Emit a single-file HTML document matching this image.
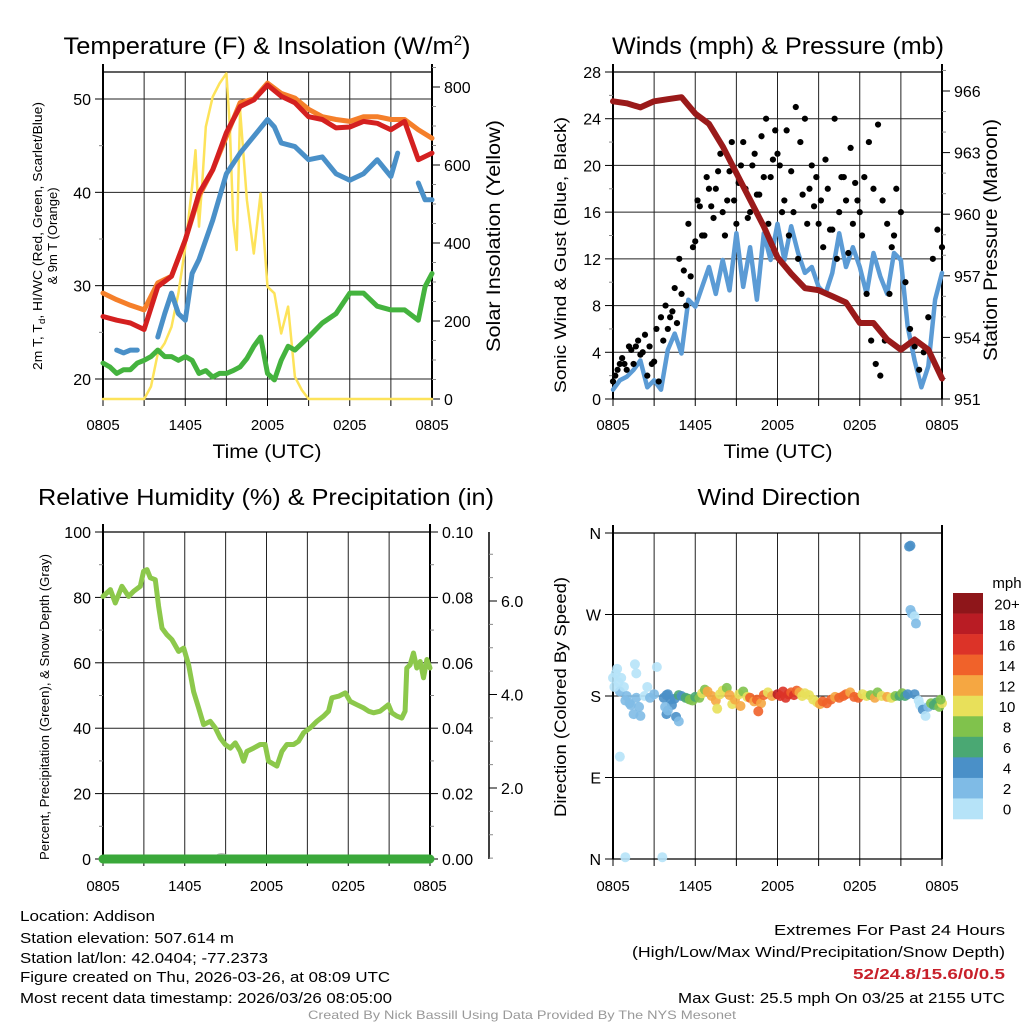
<!DOCTYPE html>
<html><head><meta charset="utf-8"><style>
html,body{margin:0;padding:0;background:#fff;}
svg{display:block;font-family:"Liberation Sans",Arial,sans-serif;}
</style></head><body>
<svg id="root" width="1024" height="1024" viewBox="0 0 1024 1024" xmlns="http://www.w3.org/2000/svg">
<rect x="0" y="0" width="1024" height="1024" fill="#fff"/>
<g id="g1"></g>
<g id="g2"></g>
<g id="g3"></g>
<g id="g4"></g>
<g id="txt">
<text x="267" y="54" font-size="24" text-anchor="middle" textLength="407" lengthAdjust="spacingAndGlyphs">Temperature (F) &amp; Insolation (W/m<tspan dy="-9" font-size="14">2</tspan><tspan dy="9">)</tspan></text>
<text x="778" y="54" font-size="24" text-anchor="middle" textLength="332" lengthAdjust="spacingAndGlyphs">Winds (mph) &amp; Pressure (mb)</text>
<text x="266" y="505" font-size="23" text-anchor="middle" textLength="456" lengthAdjust="spacingAndGlyphs">Relative Humidity (%) &amp; Precipitation (in)</text>
<text x="779" y="505" font-size="23" text-anchor="middle" textLength="163" lengthAdjust="spacingAndGlyphs">Wind Direction</text>
<text x="267" y="458" font-size="19" text-anchor="middle" textLength="109" lengthAdjust="spacingAndGlyphs">Time (UTC)</text>
<text x="778" y="458" font-size="19" text-anchor="middle" textLength="109" lengthAdjust="spacingAndGlyphs">Time (UTC)</text>
<text transform="translate(42,236) rotate(-90)" font-size="13" text-anchor="middle" textLength="268" lengthAdjust="spacingAndGlyphs">2m T, T<tspan font-size="9" dy="3">d</tspan><tspan dy="-3">, HI/WC (Red, Green, Scarlet/Blue)</tspan></text>
<text transform="translate(57,236) rotate(-90)" font-size="13" text-anchor="middle">&amp; 9m T (Orange)</text>
<text transform="translate(500,236) rotate(-90)" font-size="19" text-anchor="middle" textLength="232" lengthAdjust="spacingAndGlyphs">Solar Insolation (Yellow)</text>
<text transform="translate(566,255) rotate(-90)" font-size="17" text-anchor="middle" textLength="276" lengthAdjust="spacingAndGlyphs">Sonic Wind &amp; Gust (Blue, Black)</text>
<text transform="translate(997,240) rotate(-90)" font-size="19" text-anchor="middle" textLength="242" lengthAdjust="spacingAndGlyphs">Station Pressure (Maroon)</text>
<text transform="translate(49,707) rotate(-90)" font-size="13" text-anchor="middle" textLength="306" lengthAdjust="spacingAndGlyphs">Percent, Precipitation (Green), &amp; Snow Depth (Gray)</text>
<text transform="translate(566,697) rotate(-90)" font-size="17" text-anchor="middle" textLength="240" lengthAdjust="spacingAndGlyphs">Direction (Colored By Speed)</text>
<g font-size="15">
<text x="20" y="921" textLength="135" lengthAdjust="spacingAndGlyphs">Location: Addison</text>
<text x="20" y="943" textLength="214" lengthAdjust="spacingAndGlyphs">Station elevation: 507.614 m</text>
<text x="20" y="963" textLength="248" lengthAdjust="spacingAndGlyphs">Station lat/lon: 42.0404; -77.2373</text>
<text x="20" y="982" textLength="370" lengthAdjust="spacingAndGlyphs">Figure created on Thu, 2026-03-26, at 08:09 UTC</text>
<text x="20" y="1003" textLength="372" lengthAdjust="spacingAndGlyphs">Most recent data timestamp: 2026/03/26 08:05:00</text>
</g>
<g font-size="15" text-anchor="end">
<text x="1005" y="935" textLength="231" lengthAdjust="spacingAndGlyphs">Extremes For Past 24 Hours</text>
<text x="1005" y="957" textLength="373" lengthAdjust="spacingAndGlyphs">(High/Low/Max Wind/Precipitation/Snow Depth)</text>
<text x="1005" y="979" fill="#c8202a" font-weight="bold" textLength="152" lengthAdjust="spacingAndGlyphs">52/24.8/15.6/0/0.5</text>
<text x="1005" y="1003" textLength="327" lengthAdjust="spacingAndGlyphs">Max Gust: 25.5 mph On 03/25 at 2155 UTC</text>
</g>
<text x="522" y="1019" font-size="12" fill="#999" text-anchor="middle" textLength="428" lengthAdjust="spacingAndGlyphs">Created By Nick Bassill Using Data Provided By The NYS Mesonet</text>
</g>
</svg>
<script>
// ---------------- DATA ----------------
const timeLabels = ["0805","1405","2005","0205","0805"];
const hourly = [0,1,2,3,4,5,6,7,8,9,10,11,12,13,14,15,16,17,18,19,20,21,22,23,24];
const temp2m = [26.7,26.3,26,25.3,29.9,31,34.9,39.9,42.4,46.4,49.2,49.9,51.5,50.3,49.6,48.1,47.8,46.9,47,47.6,47.4,46.7,47.6,43.5,44.2];
const temp9m = [29.2,28.5,27.9,27.4,30.3,31,34.9,39.6,42.4,46,49.6,50,51.7,50.6,50.1,48.9,48.1,47.8,47.6,48.1,48.1,47.8,47.8,46.7,45.8];
const blueTimes = [1,1.5,2,2.5,null,4,4.5,5,5.5,6,6.5,7,8,9,10,11,12,12.5,13,14,15,16,17,18,19,20,21,21.5,null,23,23.5,24];
const blueTemp = [23.1,22.8,23.1,23.1,null,24.5,27,29.2,27,26.3,31.3,32.8,37,42,44.2,46,47.8,47,45.3,44.9,43.5,43.8,42,41.3,42,43.5,41.7,44.2,null,41,39.2,39.2];
const halfHourly = [0,0.5,1,1.5,2,2.5,3,3.5,4,4.5,5,5.5,6,6.5,7,7.5,8,8.5,9,9.5,10,10.5,11,11.5,12,12.5,13,13.5,14,15,16,17,18,19,20,21,22,23,23.5,24];
const dewpoint = [21.7,21.3,20.6,21,21,21.7,22,22.4,23.1,22.4,22.4,22,22.4,22,20.6,20.9,20.2,20.6,20.6,20.9,21.3,22.2,23.5,24.5,20.6,19.9,22,23.5,23.1,24.5,26,27,29.2,29.2,27.8,27.4,27.4,26.3,29.9,31.3];
const solarTimes = [0,1,2,3,3.5,4,4.5,5,5.5,6,6.5,6.75,7,7.25,7.5,8,8.5,9,9.25,9.5,9.75,10,10.5,11,11.5,12,12.5,13,13.5,14,14.5,15,18,21,24];
const solar = [0,0,0,0,32,117,143,185,271,390,544,638,442,560,698,775,809,835,700,459,382,741,510,373,527,288,271,168,237,57,23,0,0,0,0];
const windSonic = [0.8,1.6,1.9,2.5,3.3,1,1.6,0.8,4.2,5.6,3.9,8.5,7.9,9.6,11.3,9,11.9,9.3,14.2,9.6,13,8.5,14.2,11.9,15,11.9,14.8,12.5,10.8,11.3,9.6,9,10.8,14.2,11.3,13,11.3,9,12.5,10.5,9,12.5,11.9,6.2,3.3,1,2.8,8.5,10.8];
const gustA = [1.5,2.5,3.5,2.5,4.2,4.5,3.8,5.5,4.5,3.2,1.5,5,6,7.5,6.5,9,8,10.5,13.5,16.5,14,18,15.5,19.5,16,17,22,15,20,18,16,21,17.5,19,15,20.5,21,16,23,19.5,25,22,24,18,16.5,15,13,18,14.5,12,19,17,21.5,18.5,16,19,22,18,23.5,17,15,13,18,16,10,6,4.5,2.5,4,7,12,14.5,13];
const gustB = [2,3,3,4.5,3,5,4,2,3,6,7,8,7,9.5,12,11,15,13,17,14,19,16.5,18,21,14,19.5,17,18.5,22,15.5,20,17.5,22.5,24,19,23,20,17,14,16,12,17.5,15,20,19,17,20.5,14.5,24,16,19,12.5,15,17,14,9,5,3,2,5,9,14];
const pressure = [965.5,965.4,965.2,965.5,965.6,965.7,964.9,964.4,963.3,962,960.7,959.4,957.9,957.1,956.4,956.3,956,955.7,954.7,954.7,953.9,953.4,953.9,953.4,952];
const rhTimes = [0,0.54,0.9,1.39,1.88,2.25,2.74,2.98,3.23,3.47,3.84,4.08,4.33,4.69,5.06,5.55,5.92,6.28,6.65,7.02,7.38,7.87,8.24,8.61,8.97,9.34,9.71,10.07,10.32,10.56,11.05,11.54,11.9,12.15,12.76,13.13,13.5,13.99,14.35,14.72,15.21,15.7,16.19,16.55,16.8,17.29,17.78,18.14,18.63,19.12,19.49,19.85,20.34,20.95,21.2,21.56,21.93,22.17,22.3,22.54,22.79,23.03,23.28,23.52,23.77,24];
const rh = [80.3,82.4,78.3,83.4,80.3,81.9,83.4,88,88.5,86,85.4,77.3,70.6,68.6,67.1,63.5,64.5,59.4,51.2,46.2,41.1,42.1,40.1,37,35,33.9,35.5,32.9,29.9,32.9,33.9,35,35,29.9,28.4,32.9,35,35,36,38.6,40.1,42.1,43.7,45.2,49.3,49.8,50.8,48.2,47.2,46.2,45.2,44.7,45.2,47.2,44.7,43.7,43.1,45.2,58.4,59.4,63,58.4,60.4,55.4,61,58.4];
const precip = [0,0];
const precipTimes = [0,24];
const dirTimes = [0,0.2,0.4,0.5,0.6,0.8,0.9,1.0,1.2,1.3,1.5,1.7,1.9,2.0,2.3,2.5,2.7,3.0,0.1,0.3,1.6,1.7,3.2,0.5,0.9,3.6,3.7,3.9,4.0,4.2,4.3,4.5,4.8,5.0,4.6,4.8,3.9,4.0,3.8,5.3,5.5,5.6,5.8,6.0,6.3,6.5,6.7,6.9,7.2,7.5,7.8,8.0,8.3,8.5,8.7,8.9,9.2,9.5,9.8,10.0,10.3,10.5,10.8,11.0,11.3,11.6,7.6,9.3,10.6,12.0,12.2,12.4,12.6,12.8,13.0,13.2,13.4,13.6,13.8,14.0,14.3,14.6,14.9,15.1,15.3,15.6,15.9,16.2,16.5,16.8,17.0,17.3,17.6,17.9,18.2,18.5,18.8,19.1,19.3,19.6,20.0,20.3,20.6,20.9,21.1,21.3,21.5,21.6,21.7,21.7,21.8,22.0,22.1,22.0,22.3,22.4,22.6,22.8,23.0,23.2,23.4,23.6,23.8,24.0,23.9];
const dirDeg = [200,205,195,185,200,190,175,180,172,170,160,178,168,158,180,190,178,182,190,210,215,205,212,113,2,2,178,181,182,176,170,177,181,180,157,152,160,164,168,178,177,176,175,179,178,183,187,185,180,175,182,186,189,181,171,176,182,185,179,178,174,176,172,181,184,180,166,169,163,182,180,185,178,182,184,181,186,184,180,183,181,176,173,171,174,172,176,179,178,180,182,184,179,178,182,180,181,178,184,180,179,178,180,180,183,180,182,345,346,275,271,268,260,182,175,170,165,158,168,172,170,173,168,172,176];
const dirSpeed = [1,0,1,2,0,1,2,3,2,2,3,2,2,2,1,1,2,2,1,0,0,0,1,0,1,1,4,5,4,5,5,4,6,4,5,3,4,2,3,6,7,8,8,7,9,11,8,12,12,13,10,10,9,12,10,13,11,8,11,14,12,15,12,14,10,13,10,12,15,18,17,16,17,17,15,16,14,12,11,10,10,10,11,12,15,14,14,12,14,15,14,12,15,14,11,10,9,12,9,11,12,11,9,6,8,7,4,4,4,2,2,1,3,4,0,1,4,0,2,8,6,7,8,10,9];
const speedLabels = ["20+","18","16","14","12","10","8","6","4","2","0"];
const speedColors = ["#8e161a","#b91c24","#dc3328","#f0622a","#f5a742","#e8e05a","#80c24c","#4aa873","#4a90c8","#7fbbe6","#b6e3f8"];
const tempTicks = [20,30,40,50];
const solarTicks = [0,200,400,600,800];
const windTicks = [0,4,8,12,16,20,24,28];
const pressTicks = [951,954,957,960,963,966];
const rhTicks = [0,20,40,60,80,100];
const precipTicks = ["0.00","0.02","0.04","0.06","0.08","0.10"];
const snowTicks = ["2.0","4.0","6.0"];
const dirLabels = ["N","E","S","W","N"];

// ---------------- HELPERS ----------------
const NS="http://www.w3.org/2000/svg";
function mk(tag, a, parent){const e=document.createElementNS(NS,tag);for(const k in a)e.setAttribute(k,a[k]);parent.appendChild(e);return e;}
function lin(d0,d1,r0,r1){return v=>r0+(v-d0)/(d1-d0)*(r1-r0);}
function pathFrom(ts,vs,xf,yf){let d="",pen=false;for(let i=0;i<ts.length;i++){if(ts[i]==null||vs[i]==null){pen=false;continue;}d+=(pen?"L":"M")+xf(ts[i]).toFixed(1)+","+yf(vs[i]).toFixed(1);pen=true;}return d;}
function speedColor(s){let b=Math.min(10,Math.floor(s/2));return speedColors[10-b];}

function frame(g,x0,x1,y0,y1,hLines,xTickY,xLabelY){
  const xs=lin(0,24,x0,x1);
  for(let k=0;k<=8;k++){
    const x=xs(k*3);
    const gl=mk("line",{x1:x,x2:x,y1:y0,y2:y1,stroke:"#222","stroke-width":1},g);
    
    
    const tk=mk("line",{x1:x,x2:x,y1:y1,y2:y1+7,stroke:"#000","stroke-width":1},g);
    
    
  }
  for(let k=0;k<5;k++){
    const t=mk("text",{x:xs(k*6),y:xLabelY,"font-size":15,"text-anchor":"middle"},g);
    t.textContent=timeLabels[k];
    
    
  }
  hLines.forEach(y=>{const l=mk("line",{x1:x0,x2:x1,y1:y,y2:y,stroke:"#222","stroke-width":1},g);
    
    });
  const t=mk("line",{x1:x0,x2:x1,y1:y0,y2:y0,stroke:"#000","stroke-width":1.2},g);
  
  
  const b=mk("line",{x1:x0,x2:x1,y1:y1,y2:y1,stroke:"#000","stroke-width":1.2},g);
  
  
  const l=mk("line",{x1:x0,x2:x0,y1:y0-8,y2:y1,stroke:"#000","stroke-width":2},g);
  
  
  const r=mk("line",{x1:x1,x2:x1,y1:y0-8,y2:y1,stroke:"#000","stroke-width":2},g);
  
  
  return xs;
}
function yTicks(g,x,vals,labels,yf,side,minorVals){
  const dir=side==="left"?-1:1;
  (minorVals||[]).forEach(v=>{const m=mk("line",{x1:x,x2:x+dir*4,y1:yf(v),y2:yf(v),stroke:"#888","stroke-width":1},g);
    
    });
  vals.forEach((v,i)=>{
    const y=yf(v);
    const tk=mk("line",{x1:x,x2:x+dir*8,y1:y,y2:y,stroke:"#000","stroke-width":1},g);
    
    
    const t=mk("text",{x:x+dir*12,y:y+6,"font-size":16,"text-anchor":side==="left"?"end":"start"},g);
    t.textContent=labels[i];
    
    
  });
}
function line(g,d,color,w,name){const p=mk("path",{d:d,fill:"none",stroke:color,"stroke-width":w,"stroke-linejoin":"round","stroke-linecap":"round"},g);
  
  
  return p;}

// ---------------- PANEL 1 ----------------
(function(){
  const g=document.getElementById("g1");
  const yT=lin(20,50,379,99), yS=lin(0,800,399,87);
  const xs=frame(g,103,432,72,399,tempTicks.map(yT),399,430);
  const minorT=[];for(let v=20;v<=53;v+=5)if(v%10)minorT.push(v);
  yTicks(g,103,tempTicks,tempTicks.map(String),yT,"left",minorT);
  const minorS=[];for(let v=0;v<=850;v+=50)if(v%200)minorS.push(v);
  yTicks(g,432,solarTicks,solarTicks.map(String),yS,"right",minorS);
  line(g,pathFrom(solarTimes,solar,xs,yS),"#fde35a",2.5,"solar-insolation-line");
  line(g,pathFrom(halfHourly,dewpoint,xs,yT),"#44b33e",5,"dewpoint-line");
  line(g,pathFrom(hourly,temp9m,xs,yT),"#f57f2a",5,"temp-9m-line");
  line(g,pathFrom(hourly,temp2m,xs,yT),"#d42020",5,"temp-2m-line");
  line(g,pathFrom(blueTimes,blueTemp,xs,yT),"#4a90c8",5,"heat-index-windchill-line");
})();

// ---------------- PANEL 2 ----------------
(function(){
  const g=document.getElementById("g2");
  const yW=lin(0,28,399,72), yP=lin(951,966,399,91);
  const xs=frame(g,613,942,72,399,windTicks.map(yW),399,430);
  const minorW=[];for(let v=2;v<28;v+=4)minorW.push(v);
  yTicks(g,613,windTicks,windTicks.map(String),yW,"left",minorW);
  const minorP=[];for(let v=951;v<=967;v+=1)if((v-951)%3)minorP.push(v);
  yTicks(g,942,pressTicks,pressTicks.map(String),yP,"right",minorP);
  const tW=windSonic.map((_,i)=>i*0.5);
  line(g,pathFrom(tW,windSonic,xs,yW),"#5b9bd5",4.5,"sonic-wind-line");
  gustA.forEach((v,i)=>{const c=mk("circle",{cx:xs(i/3),cy:yW(v),r:3.1,fill:"#000"},g);
    
    });
  gustB.forEach((v,i)=>{const c=mk("circle",{cx:xs(i/3+1/6),cy:yW(v),r:3.1,fill:"#000"},g);
    
    });
  line(g,pathFrom(hourly,pressure,xs,yP),"#9a1a1a",6,"pressure-line");
})();

// ---------------- PANEL 3 ----------------
(function(){
  const g=document.getElementById("g3");
  const yR=lin(0,100,859,532), yPr=lin(0,0.1,859,532), ySn=lin(2,6,788,601);
  const xs=frame(g,103,430,532,859,[20,40,60,80].map(yR),859,891);
  const minorR=[];for(let v=10;v<100;v+=20)minorR.push(v);
  yTicks(g,103,rhTicks,rhTicks.map(String),yR,"left",minorR);
  const minorPr=[];for(let v=0.01;v<0.1;v+=0.02)minorPr.push(v);
  yTicks(g,430,precipTicks.map(Number),precipTicks,yPr,"right",minorPr);
  const ax=mk("line",{x1:489,x2:489,y1:532,y2:859,stroke:"#000","stroke-width":1.5},g);
  
  
  const minorS=[];for(let v=0.5;v<=7;v+=0.5)if(v%2&&ySn(v)>532&&ySn(v)<859)minorS.push(v);
  yTicks(g,489,snowTicks.map(Number),snowTicks,ySn,"right",minorS);
  const gb=mk("ellipse",{cx:xs(8.7),cy:858,rx:7,ry:5,fill:"#bbb"},g);
  
  
  line(g,pathFrom(precipTimes,precip,xs,yPr),"#3aa83a",9,"precipitation-line");
  line(g,pathFrom(rhTimes,rh,xs,yR),"#8cc84b",5,"relative-humidity-line");
})();

// ---------------- PANEL 4 ----------------
(function(){
  const g=document.getElementById("g4");
  const yD=lin(0,360,859,533);
  const xs=frame(g,613,942,533,859,[90,180,270].map(yD),859,891);
  yTicks(g,613,[0,90,180,270,360],dirLabels,yD,"left",[]);
  dirTimes.forEach((t,i)=>{const c=mk("circle",{cx:xs(t),cy:yD(dirDeg[i]),r:5,fill:speedColor(dirSpeed[i]),"fill-opacity":0.9},g);
    
    });
  const cb=mk("g",{},g);
  
  
  const h=(819-593)/speedColors.length;
  speedColors.forEach((c,i)=>{
    const r=mk("rect",{x:953,y:593+i*h,width:30,height:h+0.3,fill:c},cb);
    
    
    const t=mk("text",{x:1007,y:593+i*h+h/2+6,"font-size":15,"text-anchor":"middle"},cb);
    t.textContent=speedLabels[i];
    
    
  });
  const u=mk("text",{x:1007,y:588,"font-size":15,"text-anchor":"middle"},cb);
  u.textContent="mph";
  
  
})();
</script>
</body></html>
